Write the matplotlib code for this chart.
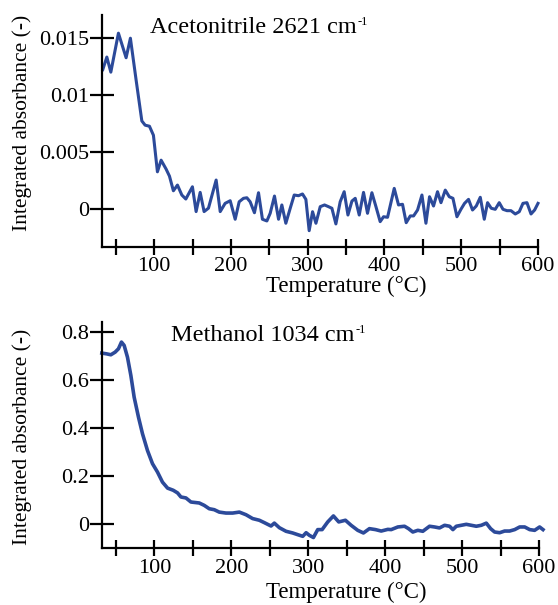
import numpy as np
import matplotlib
matplotlib.use("Agg")
import matplotlib.pyplot as plt
from matplotlib.ticker import MultipleLocator

plt.rcParams['font.family'] = ['Liberation Serif', 'DejaVu Serif']

# Acetonitrile 2621 cm-1
acn_T = [33, 38.3, 43.5, 53.4, 63.4, 69, 76.5, 83.9, 88.2, 93.8, 99, 104.2, 109,
         115.5, 119.9, 125, 130.3, 136, 141.2, 149.8, 154.6, 159.9, 165, 170.7,
         180.7, 186, 192.4, 199, 205.5, 210.7, 216.3, 220.7, 225, 230.6, 235.9,
         241, 246.8, 251.1, 256.7, 262, 266.3, 271.5, 277.2, 282.4, 288, 293.2,
         297.6, 301.9, 306.3, 310.7, 316.3, 321.9, 327.1, 331.5, 336.7, 342.3,
         347.5, 352.4, 357.6, 361.9, 367.1, 372.7, 377.9, 383.6, 388.9, 394.4,
         398.8, 404, 412.7, 418.3, 423.5, 428.3, 433.6, 437.9, 443.1, 448.8, 454,
         458.7, 463.9, 469.1, 473.6, 479.2, 484.4, 489.2, 494.4, 499.6, 504.3,
         509.5, 514.7, 519.6, 524.8, 530, 534.3, 539.1, 544.3, 549.5, 554.4,
         559.6, 564.8, 570.4, 575.6, 580.4, 585.6, 590.9, 595.6, 600]
acn_A = [0.01222, 0.01332, 0.0120, 0.01541, 0.01326, 0.01497, 0.01128, 0.00773,
         0.00736, 0.00727, 0.00648, 0.00328, 0.0043, 0.00352, 0.0029, 0.00162,
         0.00212, 0.00125, 0.0009, 0.00197, -0.0002, 0.00148, -0.0002, 0.0001,
         0.00256, -0.0002, 0.00052, 0.00075, -0.00087, 0.00066, 0.00096, 0.00101,
         0.00066, -0.0003, 0.00145, -0.00087, -0.00102, -0.00035, 0.00116,
         -0.00087, 0.00038, -0.00122, 0.00009, 0.00125, 0.00119, 0.00134, 0.00087,
         -0.00187, -0.00021, -0.00122, 0.00023, 0.00038, 0.00023, 0.00009,
         -0.00128, 0.00066, 0.00154, -0.0005, 0.00072, 0.00096, -0.0005, 0.00148,
         -0.00035, 0.00145, 0.00023, -0.00108, -0.00065, -0.0007, 0.00183,
         0.00038, 0.00044, -0.00117, -0.00058, -0.00058, -0.00006, 0.00125,
         -0.00122, 0.0011, 0.00029, 0.00154, 0.00058, 0.00168, 0.0011, 0.00096,
         -0.00065, 0.0, 0.00052, 0.00087, -0.00006, 0.00029, 0.00105, -0.00087,
         0.00058, 0.00009, 0.0, 0.00058, 0.0, -0.00012, -0.00012, -0.00041,
         -0.00021, 0.00052, 0.00058, -0.00041, -0.00006, 0.00052]

# Methanol 1034 cm-1
meoh_T = [31.8, 37.8, 43.5, 49.1, 53.4, 57.3, 60.8, 65.1, 69.5, 73.8, 79.4, 84.6,
          91.1, 97.6, 104.1, 110.6, 117.2, 124.6, 130.2, 134.6, 141.1, 147.6,
          158.4, 164.9, 171.4, 177.9, 184.4, 193.1, 201.8, 210.5, 219.2, 227.8,
          236.5, 243, 251.7, 256, 262.5, 271.2, 279.8, 286.3, 292.9, 297.3,
          301.6, 306.8, 312.4, 318.1, 325.4, 332.8, 339.7, 348.4, 355.8, 364.4,
          371.8, 379.6, 387.5, 394.9, 403.5, 407.9, 416.5, 425.2, 430.4, 436,
          442.5, 449, 457.7, 464.2, 470.7, 477.3, 483.8, 488.1, 492.5, 499,
          505.5, 512, 518.5, 525, 531.5, 537.1, 542.3, 548.8, 555.3, 561.8,
          568.4, 574.9, 581.4, 587.9, 594.3, 600.8, 605.2]
meoh_A = [0.714, 0.711, 0.707, 0.718, 0.732, 0.76, 0.746, 0.697, 0.621, 0.530,
          0.447, 0.378, 0.308, 0.253, 0.218, 0.176, 0.151, 0.142, 0.131, 0.114,
          0.110, 0.093, 0.089, 0.079, 0.065, 0.061, 0.051, 0.047, 0.047, 0.051,
          0.04, 0.024, 0.017, 0.007, -0.007, 0.005, -0.014, -0.029, -0.036,
          -0.043, -0.05, -0.035, -0.046, -0.055, -0.022, -0.022, 0.01, 0.035,
          0.01, 0.017, -0.004, -0.025, -0.036, -0.018, -0.022, -0.028, -0.021,
          -0.022, -0.011, -0.008, -0.018, -0.032, -0.025, -0.029, -0.008, -0.011,
          -0.015, -0.004, -0.008, -0.022, -0.008, -0.004, 0.0, -0.004, -0.008,
          -0.004, 0.005, -0.018, -0.032, -0.035, -0.028, -0.028, -0.022, -0.011,
          -0.011, -0.022, -0.025, -0.011, -0.022]

acn_yticks = [0, 0.005, 0.01, 0.015]
acn_ylabels = ['0', '0.005', '0.01', '0.015']
meoh_yticks = [0, 0.2, 0.4, 0.6, 0.8]
meoh_ylabels = ['0', '0.2', '0.4', '0.6', '0.8']
x_ticks = [100, 200, 300, 400, 500, 600]

line_color = '#2c4a9a'
fs = 16


def style_axis(ax, yticks, ylabels):
    for s in ['top', 'right']:
        ax.spines[s].set_visible(False)
    for s in ['left', 'bottom']:
        ax.spines[s].set_linewidth(1.6)
    ax.set_xticks(x_ticks)
    ax.set_xticklabels([str(t) for t in x_ticks])
    ax.xaxis.set_minor_locator(MultipleLocator(50))
    ax.set_yticks(yticks)
    ax.set_yticklabels(ylabels)
    ax.tick_params(which='both', direction='inout', length=11, width=1.6,
                   labelsize=fs, pad=2)
    ax.tick_params(axis='y', length=17, pad=1)
    ax.set_xlabel('Temperature (°C)', fontsize=16.5, va='center')
    ax.set_ylabel('Integrated absorbance (-)', fontsize=15.5, va='center')


def title_with_sup(fig, ax, x, y, main, sup):
    t = ax.text(x, y, main, transform=ax.transAxes, fontsize=17.5,
                va='center', ha='left')
    fig.canvas.draw()
    bb = t.get_window_extent()
    # small superscript right after the main text, at cap height
    fig.text(bb.x1 + 1, bb.y1 + 1, sup, transform=None, fontsize=9,
             va='top', ha='left')


fig = plt.figure(figsize=(5.58, 6.05), dpi=100)

ax1 = fig.add_axes([102 / 558, 0.5917, 436 / 558, 0.3835])
ax1.plot(acn_T, acn_A, color=line_color, lw=2.2, clip_on=False)
ax1.set_xlim(32, 600)
ax1.set_ylim(-0.0033, 0.017)
style_axis(ax1, acn_yticks, acn_ylabels)
ax1.xaxis.set_label_coords(0.56, -0.168)
ax1.yaxis.set_label_coords(-0.183, 0.534)

ax2 = fig.add_axes([102 / 558, 0.0937, 437 / 558, 0.3746])
ax2.plot(meoh_T, meoh_A, color=line_color, lw=2.6, clip_on=False)
ax2.set_xlim(32, 600)
ax2.set_ylim(-0.10, 0.845)
style_axis(ax2, meoh_yticks, meoh_ylabels)
ax2.xaxis.set_label_coords(0.56, -0.193)
ax2.yaxis.set_label_coords(-0.183, 0.49)

title_with_sup(fig, ax1, 0.11, 0.944, 'Acetonitrile 2621 cm', '-1')
title_with_sup(fig, ax2, 0.158, 0.941, 'Methanol 1034 cm', '-1')

fig.savefig('out.png', dpi=100)
